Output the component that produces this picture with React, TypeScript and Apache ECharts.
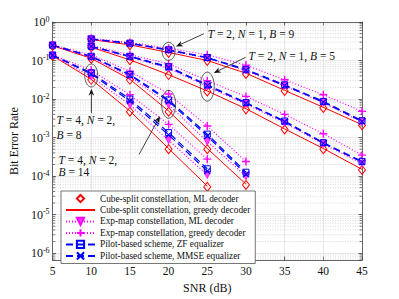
import React, { useEffect, useRef } from 'react';
import * as echarts from 'echarts';

const FONT = '"Liberation Serif", "DejaVu Serif", serif';

const NAMES = [
  'Cube-split constellation, ML decoder',
  'Cube-split constellation, greedy decoder',
  'Exp-map constellation, ML decoder',
  'Exp-map constellation, greedy decoder',
  'Pilot-based scheme, ZF equalizer',
  'Pilot-based scheme, MMSE equalizer',
];

const xTicks = [5, 10, 15, 20, 25, 30, 35, 40, 45];
const yMin = 6.6e-7;
const yMax = 1;
const minorMultipliers = [2, 3, 4, 5, 6, 7, 8, 9];
const minorDecades = [-7, -6, -5, -4, -3, -2, -1];

// T = 2, N = 1
const snrT2 = [10, 15, 20, 25, 30, 35, 40, 45];
// B = 9
const b9CubeML = [0.347, 0.251, 0.158, 0.098, 0.045, 0.0162, 0.0059, 0.00209];
const b9CubeGreedy = [0.35, 0.255, 0.162, 0.1, 0.047, 0.0168, 0.0061, 0.00216];
const b9ExpML = [0.355, 0.272, 0.182, 0.115, 0.055, 0.0219, 0.0081, 0.00251];
const b9ExpGreedy = [0.372, 0.295, 0.209, 0.141, 0.076, 0.0316, 0.0129, 0.0048];
const b9ZF = [0.363, 0.282, 0.191, 0.12, 0.059, 0.0234, 0.0087, 0.00275];
const b9MMSE = [0.36, 0.277, 0.186, 0.117, 0.056, 0.0224, 0.0083, 0.00263];
// B = 5
const b5CubeML = [0.219, 0.102, 0.042, 0.0158, 0.0054, 0.00162, 0.0005, 0.000145];
const b5CubeGreedy = [0.221, 0.104, 0.043, 0.0162, 0.0056, 0.00168, 0.00052, 0.00015];
const b5ExpML = [0.229, 0.123, 0.063, 0.0209, 0.0074, 0.0024, 0.00068, 0.00021];
const b5ExpGreedy = [0.245, 0.141, 0.083, 0.03, 0.0117, 0.004, 0.00126, 0.00035];
const b5ZF = [0.234, 0.129, 0.069, 0.0234, 0.0081, 0.00269, 0.00074, 0.00024];
const b5MMSE = [0.232, 0.126, 0.066, 0.0224, 0.0078, 0.00257, 0.00071, 0.00023];

// T = 4, N = 2, B = 14
const snrB14 = [5, 10, 15, 20, 25, 30];
const b14CubeML = [0.24, 0.112, 0.0316, 0.0047, 0.0005, 0.000059];
const b14CubeGreedy = [0.242, 0.114, 0.0325, 0.0049, 0.00052, 0.000062];
const b14ExpML = [0.245, 0.12, 0.038, 0.0071, 0.00079, 0.0001];
const b14ExpGreedy = [0.257, 0.141, 0.0525, 0.0135, 0.002, 0.00024];
const b14ZF = [0.251, 0.129, 0.0437, 0.0095, 0.00123, 0.000126];
const b14MMSE = [0.249, 0.126, 0.0417, 0.0087, 0.0011, 0.000112];

// T = 4, N = 2, B = 8
const snrB8 = [5, 10, 15, 20, 25];
const b8CubeML = [0.132, 0.0316, 0.0047, 0.0005, 0.0000525];
const b8CubeGreedy = [0.133, 0.0325, 0.0049, 0.00052, 0.000055];
const b8ExpML = [0.135, 0.038, 0.0071, 0.00085, 0.000107];
const b8ExpGreedy = [0.141, 0.056, 0.0129, 0.0022, 0.000275];
const b8ZF = [0.138, 0.048, 0.01, 0.00135, 0.000155];
const b8MMSE = [0.137, 0.0447, 0.0089, 0.00117, 0.000135];

// annotations (data coordinates)
const ellipses = [
  { at: [20, 0.173], rx: 6.5, ry: 9 },
  { at: [25, 0.021], rx: 7, ry: 14.5 },
  { at: [10, 0.041], rx: 6.5, ry: 11.5 },
  { at: [20, 0.0073], rx: 7, ry: 14 },
];
const arrows = [
  { tail: [24.55, 0.495], head: [20.95, 0.231] },
  { tail: [29.95, 0.121], head: [25.84, 0.0475] },
  { tail: [10.02, 0.0043], head: [10.02, 0.0186] },
  { tail: [16.19, 0.000367], head: [18.89, 0.0036] },
];
const labels = [
  { at: [25.06, 0.495], text: '{i|T} = 2, {i|N} = 1, {i|B} = 9' },
  { at: [30.34, 0.129], text: '{i|T} = 2, {i|N} = 1, {i|B} = 5' },
  { at: [5.51, 0.00285], text: '{i|T} = 4, {i|N} = 2,' },
  { at: [5.51, 0.00119], text: '{i|B} = 8' },
  { at: [5.77, 0.000258], text: '{i|T} = 4, {i|N} = 2,' },
  { at: [5.77, 0.000128], text: '{i|B} = 14' },
];

const groups = [
  { snr: snrT2, vals: [b9CubeML, b9CubeGreedy, b9ExpML, b9ExpGreedy, b9ZF, b9MMSE] },
  { snr: snrT2, vals: [b5CubeML, b5CubeGreedy, b5ExpML, b5ExpGreedy, b5ZF, b5MMSE] },
  { snr: snrB14, vals: [b14CubeML, b14CubeGreedy, b14ExpML, b14ExpGreedy, b14ZF, b14MMSE] },
  { snr: snrB8, vals: [b8CubeML, b8CubeGreedy, b8ExpML, b8ExpGreedy, b8ZF, b8MMSE] },
];

const RED = '#ff0000';
const MAG = '#ff00ff';
const BLUE = '#0000ff';
const CLEAR = 'rgba(0,0,0,0)';

const styles: any[] = [
  {
    symbol: 'diamond',
    symbolSize: [7, 9],
    itemStyle: { color: CLEAR, borderColor: RED, borderWidth: 1 },
    lineStyle: { width: 0, opacity: 0, color: RED },
  },
  {
    symbol: 'none',
    showSymbol: false,
    itemStyle: { color: RED },
    lineStyle: { width: 1, color: RED, type: 'solid' },
  },
  {
    symbol: 'path://M0,0L10,0L5,9Z',
    symbolSize: 7,
    itemStyle: { color: '#ff40ff', borderColor: MAG, borderWidth: 0.8 },
    lineStyle: { width: 1.2, color: MAG, type: [1, 2] },
  },
  {
    symbol: 'path://M5,0L5,10M0,5L10,5',
    symbolSize: 8,
    itemStyle: { color: CLEAR, borderColor: MAG, borderWidth: 1.4 },
    lineStyle: { width: 1.2, color: MAG, type: [1, 2] },
  },
  {
    symbol: 'rect',
    symbolSize: 6,
    itemStyle: { color: CLEAR, borderColor: BLUE, borderWidth: 1 },
    lineStyle: { width: 1.2, color: BLUE, type: [7, 4] },
  },
  {
    symbol: 'path://M0,0L10,10M10,0L0,10',
    symbolSize: 6,
    itemStyle: { color: CLEAR, borderColor: BLUE, borderWidth: 1.2 },
    lineStyle: { width: 1.2, color: BLUE, type: [7, 4] },
  },
];

function buildSeries() {
  const out: any[] = [];
  const minorValues = minorDecades
    .flatMap((d) => minorMultipliers.map((m) => m * Math.pow(10, d)))
    .filter((v) => v > yMin && v < yMax);
  out.push({
    type: 'custom',
    name: 'minor-grid',
    silent: true,
    z: 1,
    data: minorValues.map((v) => [xTicks[0], v]),
    renderItem: (params: any, api: any) => {
      const cs = params.coordSys;
      const pt = api.coord([api.value(0), api.value(1)]);
      const y = pt[1];
      return {
        type: 'group',
        children: [
          {
            type: 'line',
            shape: { x1: cs.x, y1: y, x2: cs.x + cs.width, y2: y },
            style: { stroke: '#c8c8c8', lineWidth: 0.7, lineDash: [1, 1.5] },
          },
          {
            type: 'line',
            shape: { x1: cs.x, y1: y, x2: cs.x + 2.5, y2: y },
            style: { stroke: '#444', lineWidth: 0.7 },
          },
          {
            type: 'line',
            shape: { x1: cs.x + cs.width - 2.5, y1: y, x2: cs.x + cs.width, y2: y },
            style: { stroke: '#444', lineWidth: 0.7 },
          },
        ],
      };
    },
  });
  groups.forEach((g) => {
    g.vals.forEach((vals, k) => {
      out.push({
        type: 'line',
        name: NAMES[k],
        z: 3,
        data: g.snr.map((s, i) => [s, vals[i]]),
        ...styles[k],
      });
    });
  });
  return out;
}

function arrowShapes(tail: number[], head: number[]) {
  const dx = head[0] - tail[0];
  const dy = head[1] - tail[1];
  const len = Math.hypot(dx, dy);
  const ux = dx / len;
  const uy = dy / len;
  const L = 7;
  const W = 2.8;
  const bx = head[0] - ux * L;
  const by = head[1] - uy * L;
  const px = -uy;
  const py = ux;
  return [
    {
      type: 'line',
      shape: { x1: tail[0], y1: tail[1], x2: bx + ux * 2, y2: by + uy * 2 },
      style: { stroke: '#111', lineWidth: 0.8 },
    },
    {
      type: 'polygon',
      shape: {
        points: [
          head,
          [bx + px * W, by + py * W],
          [head[0] - ux * L * 0.7, head[1] - uy * L * 0.7],
          [bx - px * W, by - py * W],
        ],
      },
      style: { fill: '#111' },
    },
  ];
}

export default function App() {
  const ref = useRef<HTMLDivElement>(null);
  useEffect(() => {
    const chart = echarts.init(ref.current!, undefined, { renderer: 'svg' });
    const axisLineStyle = { color: '#444', width: 0.8 };
    const option: any = {
      animation: false,
      backgroundColor: '#ffffff',
      textStyle: { fontFamily: FONT },
      grid: { left: 51, right: 37, top: 22, bottom: 34, containLabel: false },
      legend: {
        orient: 'vertical',
        left: 61,
        top: 191,
        padding: [3, 5, 3, 4],
        itemWidth: 29,
        itemHeight: 9,
        itemGap: 2.3,
        selectedMode: false,
        backgroundColor: '#ffffff',
        borderColor: '#555',
        borderWidth: 0.8,
        borderRadius: 0,
        textStyle: { fontFamily: FONT, fontSize: 9.3, color: '#111' },
        data: [
          { name: NAMES[0], lineStyle: { opacity: 0, width: 0 } },
          { name: NAMES[1], itemStyle: { opacity: 0 } },
          { name: NAMES[2] },
          { name: NAMES[3] },
          { name: NAMES[4] },
          { name: NAMES[5] },
        ],
      },
      xAxis: [
        {
          type: 'value',
          min: 5,
          max: 45,
          interval: 5,
          name: 'SNR (dB)',
          nameLocation: 'middle',
          nameGap: 17,
          nameTextStyle: { fontFamily: FONT, fontSize: 12, color: '#111' },
          axisLine: { show: true, lineStyle: axisLineStyle },
          axisTick: { show: true, inside: true, length: 3.5, lineStyle: axisLineStyle },
          axisLabel: { fontFamily: FONT, fontSize: 11.5, color: '#111', margin: 5 },
          splitLine: { show: true, lineStyle: { color: '#e2e2e2', width: 0.8 } },
        },
        {
          type: 'value',
          position: 'top',
          min: 5,
          max: 45,
          interval: 5,
          axisLine: { show: true, lineStyle: axisLineStyle },
          axisTick: { show: true, inside: true, length: 3.5, lineStyle: axisLineStyle },
          axisLabel: { show: false },
          splitLine: { show: false },
        },
      ],
      yAxis: [
        {
          type: 'log',
          logBase: 10,
          min: yMin,
          max: yMax,
          name: 'Bit Error Rate',
          nameLocation: 'middle',
          nameGap: 27,
          nameTextStyle: { fontFamily: FONT, fontSize: 12, color: '#111' },
          axisLine: { show: true, lineStyle: axisLineStyle },
          axisTick: { show: true, inside: true, length: 3.5, lineStyle: axisLineStyle },
          axisLabel: {
            margin: 3,
            color: '#111',
            showMinLabel: false,
            formatter: (v: number) => {
              const e = Math.log10(v);
              const r = Math.round(e);
              if (Math.abs(e - r) > 1e-6) return '';
              return `{b|10}{s|${r}}`;
            },
            rich: {
              b: { fontFamily: FONT, fontSize: 12, color: '#111', lineHeight: 14 },
              s: { fontFamily: FONT, fontSize: 8, color: '#111', verticalAlign: 'top', lineHeight: 9 },
            },
          },
          splitLine: { show: true, lineStyle: { color: '#e2e2e2', width: 0.8 } },
        },
        {
          type: 'log',
          logBase: 10,
          min: yMin,
          max: yMax,
          position: 'right',
          axisLine: { show: true, lineStyle: axisLineStyle },
          axisTick: { show: true, inside: true, length: 3.5, lineStyle: axisLineStyle },
          axisLabel: { show: false },
          splitLine: { show: false },
        },
      ],
      series: buildSeries(),
    };
    chart.setOption(option);

    const px = (p: number[]) =>
      chart.convertToPixel({ xAxisIndex: 0, yAxisIndex: 0 }, p) as unknown as number[];
    const graphic: any[] = [];
    ellipses.forEach((e) => {
      const c = px(e.at);
      graphic.push({
        type: 'ellipse',
        z: 50,
        shape: { cx: c[0], cy: c[1], rx: e.rx, ry: e.ry },
        style: { fill: 'none', stroke: '#333', lineWidth: 0.8 },
      });
    });
    arrows.forEach((a) => {
      arrowShapes(px(a.tail), px(a.head)).forEach((s) => graphic.push({ ...s, z: 50 }));
    });
    labels.forEach((l) => {
      const p = px(l.at);
      graphic.push({
        type: 'text',
        z: 50,
        x: p[0],
        y: p[1],
        style: {
          text: l.text,
          fontFamily: FONT,
          fontSize: 11.5,
          lineHeight: 11,
          fill: '#111',
          verticalAlign: 'middle',
          align: 'left',
          rich: {
            i: { fontFamily: FONT, fontSize: 11.5, lineHeight: 11, fontStyle: 'italic', fill: '#111' },
          },
        },
      });
    });
    chart.setOption({ graphic });
    return () => chart.dispose();
  }, []);
  return (
    <div
      ref={ref}
      style={{ position: 'fixed', left: 0, top: 0, width: 399, height: 299, background: '#fff' }}
    />
  );
}
